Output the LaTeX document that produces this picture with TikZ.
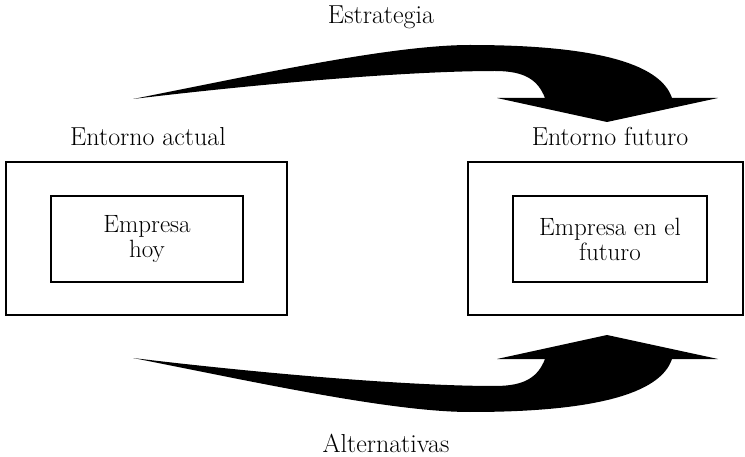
\documentclass[tikz,border=0pt]{standalone}
\usepackage{tikz}
\usetikzlibrary{positioning}

\begin{document}
\begin{tikzpicture}[
    x=1pt, y=-1pt,
    framebox/.style={draw=black, line width=1.2pt, inner sep=0pt},
    caption/.style={font=\fontsize{26}{25}\selectfont, align=center},
    boxtext/.style={font=\fontsize{25}{25}\selectfont, align=center},
    bigarrow/.style={fill=black}
    ]
        \useasboundingbox (0,0) rectangle (745,457);

        %Nodes
        \node[framebox, minimum width=281pt, minimum height=153pt]
            (envnow)    at (146.5,238.5)    {};
        \node[framebox, boxtext, minimum width=192pt, minimum height=86pt]
            (firmnow)   at (147,239)        {Empresa\\hoy};
        \node[framebox, minimum width=275pt, minimum height=153pt]
            (envfut)    at (605.5,238.5)    {};
        \node[framebox, boxtext, minimum width=194pt, minimum height=86pt]
            (firmfut)   at (610,239)        {Empresa en el\\futuro};

        \node[caption, anchor=base] (envnowlbl) at (148,146) {Entorno actual};
        \node[caption, anchor=base] (envfutlbl) at (610,146) {Entorno futuro};
        \node[caption, anchor=base] (strat)     at (381,24)  {Estrategia};
        \node[caption, anchor=base] (alt)       at (386,452) {Alternativas};

        %Arrows
        \fill[bigarrow] (133,99) .. controls (250,76) and (390,45) .. (470,45)
            .. controls (590,45) and (660,62) .. (672,98)
            -- (718,98) -- (607,122) -- (497,98) -- (545,98)
            .. controls (538,80) and (525,71) .. (495,71)
            .. controls (400,71) and (240,86) .. (133,99) -- cycle;
        \fill[bigarrow] (133,358) .. controls (250,381) and (390,412) .. (470,412)
            .. controls (590,412) and (660,395) .. (672,359)
            -- (718,359) -- (607,335) -- (497,359) -- (545,359)
            .. controls (538,377) and (525,386) .. (495,386)
            .. controls (400,386) and (240,371) .. (133,358) -- cycle;
    \end{tikzpicture}
\end{document}
